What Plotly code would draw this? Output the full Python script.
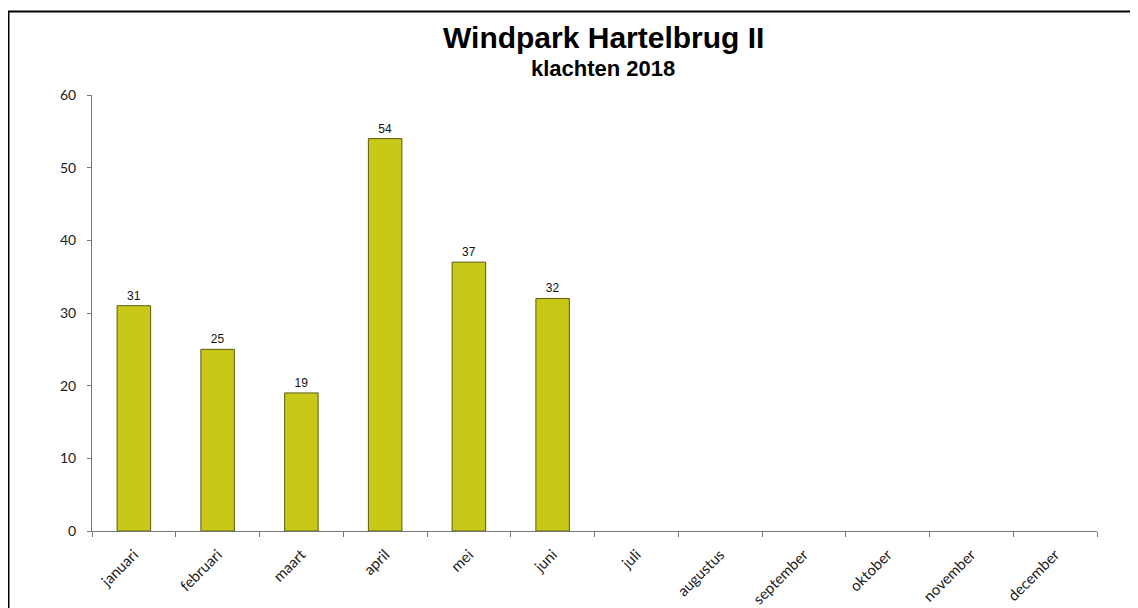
import plotly.graph_objects as go

months = ["januari", "februari", "maart", "april", "mei", "juni",
          "juli", "augustus", "september", "oktober", "november", "december"]
klachten = [31, 25, 19, 54, 37, 32, None, None, None, None, None, None]
y_ticks = [0, 10, 20, 30, 40, 50, 60]
title_main = "Windpark Hartelbrug II"
title_sub = "klachten 2018"

labels = [str(v) if v is not None else "" for v in klachten]

# the page body adds an 8px offset; figure coords = reference coords - 8
W, H = 1130, 600
L, R, T, B = 84, 1089, 87, 523
pw, ph = R - L, B - T

def px(x):
    return (x - 8 - L) / pw

def py(y):
    return (B - (y - 8)) / ph

fig = go.Figure()
fig.add_trace(go.Bar(
    x=months, y=klachten, width=0.4,
    marker=dict(color="#C8C818", line=dict(color="#5a5a10", width=1)),
    text=labels, textposition="outside", cliponaxis=False,
    textfont=dict(family="Arial, Liberation Sans", size=12, color="#111"),
))

fig.update_layout(
    width=W, height=H,
    margin=dict(l=L, r=W - R, t=T, b=H - B, autoexpand=False),
    paper_bgcolor="white", plot_bgcolor="white",
    showlegend=False,
    bargap=0.6,
)
fig.update_xaxes(
    type="category", tickson="boundaries", ticks="outside", ticklen=5,
    tickcolor="#777", linecolor="#777", linewidth=1, showline=True,
    tickangle=-45, showgrid=False, ticklabelstandoff=8, automargin=False,
    tickfont=dict(family="Lato, Open Sans", size=15, color="#222"),
)
fig.update_yaxes(
    range=[0, 60], tickvals=y_ticks, ticks="outside", ticklen=4,
    tickcolor="#777", linecolor="#777", linewidth=1, showline=True,
    showgrid=False, zeroline=False, ticklabelstandoff=8, automargin=False,
    tickfont=dict(family="Lato, Open Sans", size=14, color="#222"),
)

fig.add_annotation(text="<b>" + title_main + "</b>", xref="paper", yref="paper",
                   x=px(603), y=py(37), showarrow=False,
                   xanchor="center", yanchor="middle",
                   font=dict(family="Arial, Liberation Sans", size=30, color="black"))
fig.add_annotation(text="<b>" + title_sub + "</b>", xref="paper", yref="paper",
                   x=px(603), y=py(68), showarrow=False,
                   xanchor="center", yanchor="middle",
                   font=dict(family="Arial, Liberation Sans", size=22, color="black"))

fig.add_shape(type="rect", xref="paper", yref="paper",
              x0=px(8.5), x1=1.2, y0=-0.5, y1=py(11.5),
              line=dict(color="black", width=2), fillcolor="rgba(0,0,0,0)")

fig.write_html("out.html")
